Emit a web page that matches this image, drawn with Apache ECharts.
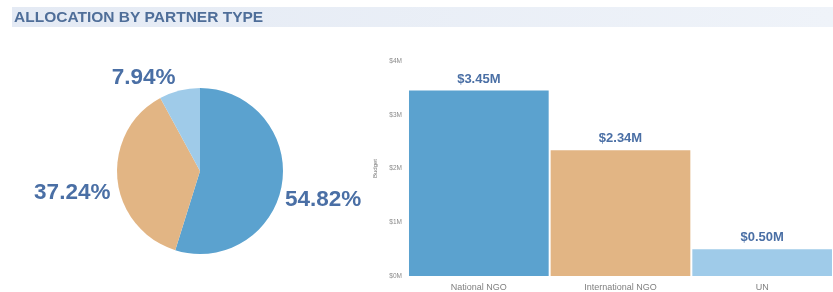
<!DOCTYPE html>
<html lang="en">
<head>
    <meta charset="UTF-8">
    <title>Allocation by partner type</title>
    <script src="https://cdn.jsdelivr.net/npm/echarts@6/dist/echarts.min.js"></script>
</head>
<style>
html,body{margin:0;padding:0;background-color:#ffffff}
#chartBox{width:833px;height:292px}
</style>
<body>
    <div id="chartBox"></div>
</body>
<script>
// data
const partnerTypes = ['National NGO', 'International NGO', 'UN'];
const budgetValues = [3.45, 2.34, 0.50];      // millions
const sharePercents = [54.82, 37.24, 7.94];
const budgetTicks = ['$0M', '$1M', '$2M', '$3M', '$4M'];
const typeColors = ['#5ba2cf', '#e2b584', '#9fcbe9'];
// nudges for the pie labels, to sit where the original puts them
const pieLabelShift = [[-6, 16], [2, 13], [2, -9]];

const labelBlue = '#4a6fa5';

let chartObj = echarts.init(document.getElementById('chartBox'));
let option = {
    animation: false,
    graphic: [
        {
            type: 'rect',
            shape: {x: 12, y: 7, width: 821, height: 20},
            style: {
                fill: new echarts.graphic.LinearGradient(0, 0, 1, 0, [
                    {offset: 0, color: '#e4eaf4'},
                    {offset: 1, color: '#eff3f9'}
                ])
            },
            z: 0
        },
        {
            type: 'text',
            left: 14,
            top: 10,
            style: {
                text: 'ALLOCATION BY PARTNER TYPE',
                font: 'bold 15.5px "Liberation Sans", Arial, sans-serif',
                fill: '#4f6e99'
            }
        }
    ],
    grid: {
        left: 408,
        right: -6,
        top: 61,
        bottom: 13
    },
    xAxis: {
        type: 'category',
        data: partnerTypes,
        axisLine: {show: false},
        axisTick: {show: false},
        axisLabel: {
            fontSize: 9,
            color: '#808080',
            margin: 7,
            fontFamily: 'Liberation Sans'
        }
    },
    yAxis: {
        type: 'value',
        min: 0,
        max: 4,
        interval: 1,
        name: 'Budget',
        nameLocation: 'middle',
        nameGap: 28,
        nameTextStyle: {fontSize: 6, color: '#777', fontFamily: 'Liberation Sans'},
        splitLine: {show: false},
        axisLine: {show: false},
        axisTick: {show: false},
        axisLabel: {
            fontSize: 6.5,
            color: '#8a8a8a',
            margin: 6,
            padding: [0, 0, 10, 0],
            fontFamily: 'Liberation Sans',
            formatter: function (v) { return budgetTicks[Math.round(v)]; }
        }
    },
    series: [
        {
            type: 'bar',
            barCategoryGap: '1.4%',
            data: budgetValues.map(function (v, i) {
                return {value: v, itemStyle: {color: typeColors[i]}};
            }),
            label: {
                show: true,
                position: 'top',
                distance: 5,
                fontSize: 13,
                fontWeight: 'bold',
                color: labelBlue,
                fontFamily: 'Liberation Sans',
                formatter: function (p) { return '$' + p.value.toFixed(2) + 'M'; }
            }
        },
        {
            type: 'pie',
            center: [200, 171],
            radius: 83,
            startAngle: 90,
            clockwise: true,
            data: sharePercents.map(function (v, i) {
                return {
                    value: v,
                    name: partnerTypes[i],
                    itemStyle: {color: typeColors[i]},
                    label: {offset: pieLabelShift[i]}
                };
            }),
            label: {
                show: true,
                position: 'outside',
                fontSize: 22.5,
                fontWeight: 'bold',
                color: labelBlue,
                fontFamily: 'Liberation Sans',
                formatter: function (p) { return p.value.toFixed(2) + '%'; }
            },
            labelLine: {show: false, length: 4, length2: 0}
        }
    ]
};
chartObj.setOption(option);
</script>
</html>
